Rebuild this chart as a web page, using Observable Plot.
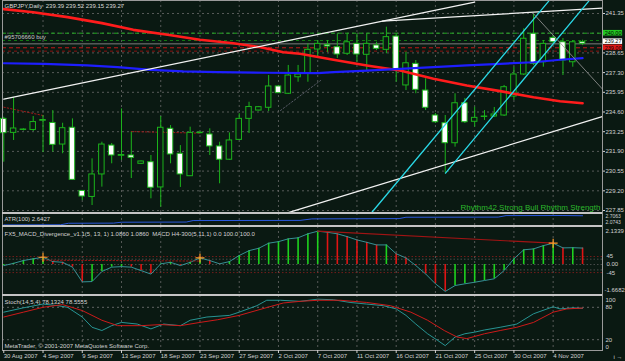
<!DOCTYPE html>
<html><head><meta charset="utf-8">
<script src="https://cdn.jsdelivr.net/npm/d3@7"></script>
<script src="https://cdn.jsdelivr.net/npm/@observablehq/plot@0.6"></script>
<style>
html,body{margin:0;padding:0;background:#0a1912;}
#chart{position:relative;width:625px;height:361px;background:#0a1912;overflow:hidden;}
#chart svg{position:absolute;left:0;}
.sep{position:absolute;left:2px;width:600px;height:2px;background:#c4c4c4;}
</style></head><body><div id="chart"></div>
<script>
// ---------- data ----------
const title = "GBPJPY,Daily  239.39 239.52 239.15 239.27";
const orderLabel = "#95706660 buy";
const rhythmLabel = "Rhythm42 Strong Bull Rhythm Strength";
const atrLabel = "ATR(100) 2.6427";
const macdLabel = "FX5_MACD_Divergence_v1.1(5, 13, 1) 1.0860 1.0860  MACD H4-300(5,11,1) 0.0 100.0 100.0";
const stochLabel = "Stoch(14,5,4) 78.1324 78.5555";
const copyright = "MetaTrader, \u00a9 2001-2007 MetaQuotes Software Corp.";

const dateLabels = ["30 Aug 2007","4 Sep 2007","9 Sep 2007","13 Sep 2007","18 Sep 2007","23 Sep 2007","27 Sep 2007","2 Oct 2007","7 Oct 2007","11 Oct 2007","16 Oct 2007","21 Oct 2007","25 Oct 2007","30 Oct 2007","4 Nov 2007"];
const dateLabelIdx = [0,4,8,12,16,20,24,28,32,36,40,44,48,52,56];

const opens  = [234.13,233.17,233.37,233.37,234.00,233.85,232.37,233.52,229.19,228.78,230.32,232.30,231.60,231.62,231.05,231.16,229.43,233.45,231.74,230.20,233.15,233.06,232.24,231.33,232.69,234.13,234.70,234.89,236.35,235.85,236.98,237.26,238.88,239.20,239.04,238.59,239.27,238.52,239.16,238.86,239.77,236.42,237.90,236.07,234.36,233.83,232.46,235.20,233.93,234.26,234.29,234.36,235.66,237.17,239.96,238.01,239.68,239.38,238.01,239.39];
const highs  = [234.24,235.59,233.45,234.29,234.36,234.70,233.83,234.13,229.22,231.39,232.53,232.44,234.81,233.22,231.24,231.62,234.29,233.67,232.30,233.56,233.25,233.45,232.53,233.17,234.48,235.27,234.98,237.10,236.42,237.79,237.79,239.27,239.50,239.50,239.96,239.96,239.96,239.96,239.38,240.41,239.96,238.70,238.13,236.88,234.50,234.36,235.85,235.53,234.93,234.70,234.91,236.42,237.67,240.30,241.28,239.50,239.84,239.64,239.50,239.52];
const lows   = [231.16,232.65,233.30,233.26,231.82,231.85,231.74,229.91,228.53,228.19,229.45,231.05,231.28,230.04,231.00,228.65,228.08,231.05,229.43,230.18,233.10,231.62,229.68,231.28,232.65,233.13,234.67,234.63,235.87,235.80,236.64,236.64,238.40,238.68,238.27,238.47,238.01,237.44,238.81,238.59,236.64,236.07,235.85,234.70,233.81,230.41,232.19,233.81,233.56,234.02,234.22,234.29,235.39,237.10,237.79,237.67,239.27,237.10,237.67,239.15];
const closes = [233.15,233.47,233.40,233.91,234.05,232.35,233.49,229.95,228.81,230.32,232.37,231.62,231.65,231.46,231.21,229.41,233.52,231.69,230.32,233.17,233.18,232.24,231.33,232.65,234.13,234.94,234.93,236.35,235.89,237.10,237.17,238.86,239.27,239.09,238.54,239.38,238.54,239.27,238.93,239.73,237.49,237.94,236.12,234.89,233.90,232.46,235.20,233.90,234.20,234.29,234.43,236.30,237.17,239.62,237.90,239.27,239.38,238.13,239.38,239.27];

const redMAIdx = [0,3,6.5,10,13.2,16.7,20,23.4,26.2,28.5,30.2,33.6,37,40.4,43.8,47.2,50.6,54,56.7,59];
const redMAVal = [241.65,241.44,241.10,240.69,240.23,239.89,239.55,239.31,239.04,238.70,238.59,238.18,237.79,237.44,236.88,236.42,236.03,235.61,235.34,235.20];
const blueMAIdx = [0,4.1,8.5,11.6,15,18.3,21.8,26.8,32,33.6,37,40.4,43.8,47.2,50.6,54,56.7,59];
const blueMAVal = [237.94,237.90,237.79,237.67,237.49,237.38,237.33,237.29,237.26,237.33,237.44,237.56,237.67,237.79,237.90,238.01,238.18,238.29];

// trend lines: [i1, p1, i2, p2]
const whiteLines = [[0,235.48,48,242.13],[38.6,240.83,61,241.72],[29,227.71,61,234.28]];
const cyanLines  = [[37.55,227.75,55.55,242.2],[45.03,230.41,59.63,242.2]];
const grayLines  = [[54,241.33,61,236.19]];
const dottedGrayLines = [[28.2,234.70,32.3,236.76]];
const divPriceLines = [[0,234.93,4,234.36],[13,233.26,20,233.15]];

const priceTicks = [241.35,240.00,238.65,237.30,235.95,234.60,233.25,231.90,230.55,229.20,227.85];
const orderLevels = [240.00,239.50,239.27,239.00,238.77];
const orderColors = ["#22a822","#137a13","#7c7c7c","#c41a1a","#8e1010"];
const orderDash   = ["4,3","3,3","none","4,3","3,3"];
const priceBoxes  = [239.27,240.00,239.00];
const priceBoxFill= ["#ffffff","#22c822","#e01818"];
const priceBoxShift = [-2.2,0,0];

const atrIdx = [0,5.8,6.6,11.2,12,18.6,19.3,30.2,31.4,40.3,41,50.4,51.2,57,59];
const atrVal = [2.08,2.09,2.19,2.20,2.26,2.27,2.37,2.38,2.48,2.50,2.59,2.60,2.70,2.706,2.69];
const atrTicks = [2.7063,2.0743];

const macdVal = [-0.06,0.07,0.23,0.33,0.42,0.17,0.13,-0.15,-1.00,-0.98,-0.40,-0.15,-0.12,-0.15,-0.35,-0.55,0.04,0.13,-0.06,0.13,0.38,0.23,0.04,0.17,0.52,0.80,0.94,1.23,1.32,1.48,1.54,1.77,1.92,1.86,1.77,1.61,1.42,1.28,1.13,1.13,0.62,0.38,-0.06,-0.54,-1.11,-1.55,-1.21,-1.11,-1.02,-0.92,-0.82,-0.35,0.33,0.85,0.90,1.09,1.23,0.96,0.97,0.95];
const macdMarkIdx = [4,20,56];
const macdDivLines = [[32,1.92,56,1.23],[4,0.25,20,0.20]];
const h4Levels = [45,30,0,-30,-45];
const h4Labels = ["45","0.00","-45"];
const h4LabelLevels = [45,0,-45];
const h4Factor = 0.0103;
const macdTicks = [2.1339,-1.6682];

const stochKIdx = [0,2,4,5.5,6.5,8,9,10,11,12,13.6,15,16.3,18,19,20.7,23,24,25.8,26.8,28.2,30.2,32,33.6,35.3,37,38.7,40,41,42,43.2,44.2,45,46,47,48,49,50.6,52.3,54,56,56.7,58,59];
const stochKVal = [71,79,86,83,80,62,43,37,46,52,49,40,49,46,56,62,65,71,83,93,93,91,95,94,89,86,83,77,65,49,31,19,9,25,31,34,38,43,49,68,81,77,79,78.13];
const stochDIdx = [0,2,4,6,8,10,11.6,14,16,18,20,21.8,24,26.9,28.5,30.2,32,34.3,37,39.4,41.5,43.2,44.9,46.2,47.2,49,50.6,52.3,54,56,57.4,59];
const stochDVal = [62,71,80,85,74,56,46,46,48,46,52,57,65,80,88,91,93,93,89,83,71,56,37,25,22,31,37,43,52,71,77,78.56];
const stochTicks = [100,80,20,0];

// ---------- helpers ----------
const bg = "#0a1912";
const green = "#1cb41c";
const xDomain = [-0.13, 61.03];
const gridIdx = dateLabelIdx.slice(1);
const labelMap = new Map(dateLabelIdx.map((d,i)=>[d,dateLabels[i]]));
const css = "background:transparent;color:#d2d2d2;font-family:'Liberation Sans',Arial,sans-serif;font-size:6px;overflow:visible;";
const common = {width:625, marginLeft:2, marginRight:23, x:{type:"linear", domain:xDomain, axis:null}, color:{type:"identity"}, style:css};
const gridStyle = {stroke:"#6a6a6a", strokeOpacity:1, strokeWidth:0.8, strokeDasharray:"2,3"};
const segs = (arr) => arr.flatMap((s,k)=>[{k,i:s[0],v:s[1]},{k,i:s[2],v:s[3]}]);
const pts = (idx, val) => idx.map((i,k)=>({i, v:val[k]}));

const bars = opens.map((o,i)=>({i, o, h:highs[i], l:lows[i], c:closes[i]}));
const orders = orderLevels.map((p,k)=>({p, col:orderColors[k], dash:orderDash[k]}));
const boxes = priceBoxes.map((p,k)=>({p, fill:priceBoxFill[k], shift:priceBoxShift[k]}));
const macd = macdVal.map((v,i)=>({i, v, col: (i===0 || v >= macdVal[i-1]) ? "#1ed21e" : "#e01414"}));
const xR = xDomain[1];

const chart = document.getElementById("chart");
function place(svg, top){ svg.style.top = top + "px"; chart.appendChild(svg); }

const boxMarks = boxes.flatMap(b=>[
  Plot.rect([b], {x1:()=>xR+0.1, x2:()=>xR+2.05, y1:d=>d.p-0.19, y2:d=>d.p+0.19, fill:"fill", dy:b.shift}),
  Plot.text([b], {x:()=>xR+0.22, y:"p", text:d=>d.p.toFixed(2), textAnchor:"start", fill:"#000000", fontSize:5.5, dy:b.shift})
]);

// ---------- main price panel ----------
const main = Plot.plot({
  ...common, height:212, marginTop:0, marginBottom:0,
  y:{domain:[227.713, 242.241], axis:null},
  marks:[
    Plot.gridX(gridIdx, gridStyle),
    Plot.gridY(priceTicks, gridStyle),
    ...orders.map(o=>Plot.ruleY([o.p], {stroke:o.col, strokeWidth:1, strokeDasharray:o.dash})),
    Plot.line(segs(divPriceLines), {x:"i", y:"v", z:"k", stroke:"#a01818", strokeWidth:1, strokeDasharray:"1.5,2"}),
    Plot.line(segs(dottedGrayLines), {x:"i", y:"v", z:"k", stroke:"#6a6a7a", strokeWidth:0.8, strokeDasharray:"1.5,2"}),
    Plot.ruleX(bars, {x:"i", y1:"l", y2:"h", stroke:green, strokeWidth:1}),
    Plot.rect(bars, {x1:d=>d.i-0.28, x2:d=>d.i+0.28, y1:"o", y2:"c", fill:d=>d.c<d.o?"#ffffff":bg, stroke:green, strokeWidth:1}),
    Plot.line(pts(redMAIdx, redMAVal), {x:"i", y:"v", stroke:"#ff1c1c", strokeWidth:2.6}),
    Plot.line(pts(blueMAIdx, blueMAVal), {x:"i", y:"v", stroke:"#1e1eff", strokeWidth:2.2}),
    Plot.line(segs(whiteLines), {x:"i", y:"v", z:"k", stroke:"#f2f2f2", strokeWidth:1.3}),
    Plot.line(segs(cyanLines), {x:"i", y:"v", z:"k", stroke:"#2ad8e6", strokeWidth:1.3}),
    Plot.line(segs(grayLines), {x:"i", y:"v", z:"k", stroke:"#9a9a9a", strokeWidth:0.8}),
    Plot.frame({stroke:"#9a9a9a"}),
    Plot.axisY(priceTicks.filter(p=>p!==240), {anchor:"right", tickSize:2, tickPadding:1, tickFormat:d=>d.toFixed(2)}),
    ...boxMarks,
    Plot.text([title], {text:d=>d, frameAnchor:"top-left", dx:2, dy:6, textAnchor:"start", lineAnchor:"middle", fill:"#dcdcdc"}),
    Plot.text([orderLabel], {text:d=>d, frameAnchor:"top-left", dx:2, dy:36.5, textAnchor:"start", lineAnchor:"middle", fill:"#c8c8c8"}),
    Plot.text([rhythmLabel], {text:d=>d, frameAnchor:"bottom-right", dx:-2, dy:-5.5, textAnchor:"end", lineAnchor:"middle", fill:"#2cb82c", fontSize:8})
  ]
});
place(main, 0);

// ---------- ATR panel ----------
const atr = Plot.plot({
  ...common, height:13, marginTop:0, marginBottom:0,
  y:{domain:[1.9745, 2.8394], axis:null},
  marks:[
    Plot.gridX(gridIdx, gridStyle),
    Plot.line(pts(atrIdx, atrVal), {x:"i", y:"v", stroke:"#2a58dc", strokeWidth:1}),
    Plot.frame({stroke:"#9a9a9a"}),
    Plot.text([atrTicks[0]], {x:()=>xR, y:d=>d, text:d=>d.toFixed(4), dx:3, dy:1, textAnchor:"start", fontSize:5}),
    Plot.text([atrTicks[1]], {x:()=>xR, y:d=>d, text:d=>d.toFixed(4), dx:3, dy:-2.8, textAnchor:"start", fontSize:5}),
    Plot.text([atrLabel], {text:d=>d, frameAnchor:"top-left", dx:2, dy:6, textAnchor:"start", lineAnchor:"middle", fill:"#d2d2d2"})
  ]
});
place(atr, 213);

// ---------- MACD panel ----------
const macdPlot = Plot.plot({
  ...common, height:68, marginTop:0, marginBottom:0,
  y:{domain:[-1.7258, 2.1915], axis:null},
  marks:[
    Plot.gridX(gridIdx, gridStyle),
    Plot.ruleY(h4Levels, {y:d=>d*h4Factor, stroke:d=>Math.abs(d)===45?"#8e1e1e":"#5a5a5a", strokeWidth:0.8, strokeDasharray:"1.5,2"}),
    Plot.ruleX(macd, {x:"i", y1:()=>0, y2:"v", stroke:"col", strokeWidth:1.6}),
    Plot.line(macd, {x:"i", y:"v", stroke:"#3a9ea4", strokeWidth:0.9}),
    Plot.line(segs(macdDivLines.slice(0,1)), {x:"i", y:"v", z:"k", stroke:"#a01414", strokeWidth:1.2}),
    Plot.line(segs(macdDivLines.slice(1)), {x:"i", y:"v", z:"k", stroke:"#a01414", strokeWidth:1, strokeDasharray:"1.5,2"}),
    Plot.dot(macdMarkIdx, {x:d=>d, y:d=>macdVal[d], symbol:"plus", r:3, stroke:"#ff9a2a", strokeWidth:1.2}),
    Plot.frame({stroke:"#9a9a9a"}),
    Plot.text([macdTicks[0]], {x:()=>xR, y:d=>d, text:d=>d.toFixed(4), dx:3, dy:3.7, textAnchor:"start"}),
    Plot.text([macdTicks[1]], {x:()=>xR, y:d=>d, text:d=>d.toFixed(4), dx:2, dy:-3, textAnchor:"start"}),
    Plot.text(h4LabelLevels, {x:()=>xR, y:d=>d*h4Factor, text:(d,k)=>h4Labels[k], dx:4, textAnchor:"start"}),
    Plot.text([macdLabel], {text:d=>d, frameAnchor:"top-left", dx:2, dy:7.3, textAnchor:"start", lineAnchor:"middle", fill:"#d2d2d2"})
  ]
});
place(macdPlot, 226);

// ---------- Stochastic panel ----------
const stoch = Plot.plot({
  ...common, height:66, marginTop:0, marginBottom:11,
  y:{domain:[0, 101.85], axis:null},
  marks:[
    Plot.gridX(gridIdx, gridStyle),
    Plot.ruleY([80,20], {stroke:"#7a7a7a", strokeWidth:0.8, strokeDasharray:"2,3"}),
    Plot.line(pts(stochKIdx, stochKVal), {x:"i", y:"v", stroke:"#2aa2a2", strokeWidth:0.9}),
    Plot.line(pts(stochDIdx, stochDVal), {x:"i", y:"v", stroke:"#cc1a1a", strokeWidth:1}),
    Plot.frame({stroke:"#9a9a9a"}),
    Plot.text([stochTicks[0]], {x:()=>xR, y:d=>d, text:d=>String(d), dx:3, dy:4, textAnchor:"start"}),
    Plot.text(stochTicks.slice(1,3), {x:()=>xR, y:d=>d, text:d=>String(d), dx:3, textAnchor:"start"}),
    Plot.text([stochTicks[3]], {x:()=>xR, y:d=>d, text:d=>String(d), dx:3, dy:-3.3, textAnchor:"start"}),
    Plot.axisX(dateLabelIdx, {anchor:"bottom", tickSize:3, tickPadding:0.5, tickFormat:d=>labelMap.get(d), textAnchor:"start"}),
    Plot.text([stochLabel], {text:d=>d, frameAnchor:"top-left", dx:2, dy:6.5, textAnchor:"start", lineAnchor:"middle", fill:"#d2d2d2"}),
    Plot.text([copyright], {text:d=>d, frameAnchor:"bottom-left", dx:2, dy:-4, textAnchor:"start", lineAnchor:"middle", fill:"#d2d2d2"})
  ]
});
place(stoch, 295);

// panel separators
[212, 224.5, 293.5].forEach(t=>{ const d=document.createElement("div"); d.className="sep"; d.style.top=t+"px"; chart.appendChild(d); });
</script></body></html>
